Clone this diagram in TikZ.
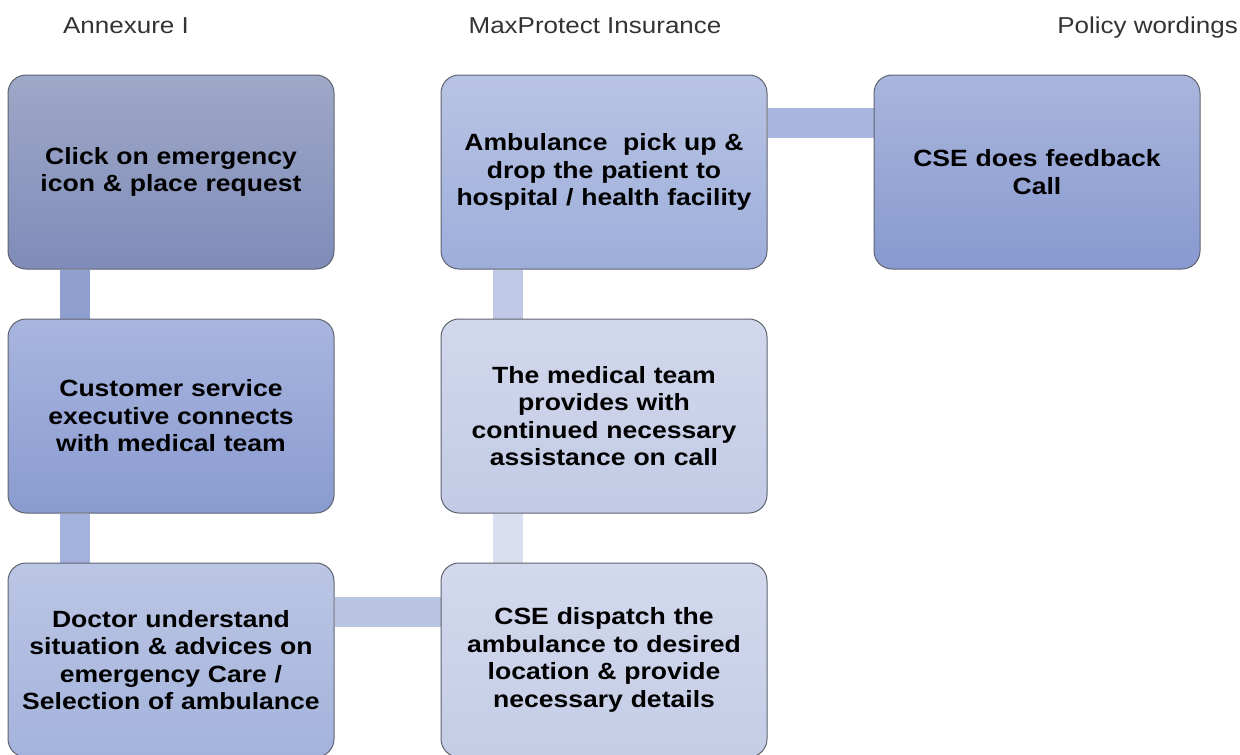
\documentclass[tikz,border=0pt]{standalone}
\usepackage{fontspec}
\setmainfont[FakeStretch=1.13]{Liberation Sans}
\usetikzlibrary{positioning,backgrounds,calc}
\definecolor{boxline}{HTML}{5F6370}
\definecolor{headgray}{HTML}{333333}
\definecolor{clicktop}{HTML}{9EA8C7}
\definecolor{clickbot}{HTML}{7F8CB9}
\definecolor{csetop}{HTML}{A8B5DF}
\definecolor{csebot}{HTML}{8A9BD0}
\definecolor{doctortop}{HTML}{BBC6E4}
\definecolor{doctorbot}{HTML}{A4B3DC}
\definecolor{dispatchtop}{HTML}{D3D9ED}
\definecolor{dispatchbot}{HTML}{C4CCE6}
\definecolor{medicaltop}{HTML}{D2D8EC}
\definecolor{medicalbot}{HTML}{C2CAE5}
\definecolor{pickuptop}{HTML}{B9C4E3}
\definecolor{pickupbot}{HTML}{9DAEDB}
\definecolor{feedbacktop}{HTML}{A9B5DC}
\definecolor{feedbackbot}{HTML}{8799CF}
\definecolor{linkA}{HTML}{8F9FD0}
\definecolor{linkB}{HTML}{A3B2DC}
\definecolor{linkC}{HTML}{BAC4E3}
\definecolor{linkD}{HTML}{D9DFEF}
\definecolor{linkE}{HTML}{BFC9E6}
\definecolor{linkF}{HTML}{A9B6DF}
\begin{document}
\begin{tikzpicture}[x=1pt,y=-1pt,node distance=49pt and 106pt]
\tikzset{flowbox/.style={draw=boxline,line width=1pt,rounded corners=18pt,
  minimum width=326pt,minimum height=194pt,text width=310pt,align=center,
  font=\bfseries\fontsize{23.5}{27.5}\selectfont}}
\tikzset{link/.style={line width=30pt}}
\tikzset{heading/.style={anchor=base,text=headgray,inner sep=0pt,
  font=\fontsize{23}{27}\selectfont}}
\useasboundingbox (0,0) rectangle (1240,755);
% column headings
\node[heading] (annex) at (126,33) {Annexure I};
\node[heading] (insurer) at (595,33) {MaxProtect Insurance};
\node[heading,anchor=base east] (wordings) at (1238,33) {Policy wordings};
% steps
\node[flowbox,top color=clicktop,bottom color=clickbot] (click) at (171,172)
  {Click on emergency\\icon \& place request};
\node[flowbox,top color=csetop,bottom color=csebot,below=of click] (cse)
  {Customer service\\executive connects\\with medical team};
\node[flowbox,top color=doctortop,bottom color=doctorbot,below=of cse] (doctor)
  {Doctor understand\\situation \& advices on\\emergency Care /\\Selection of ambulance};
\node[flowbox,top color=dispatchtop,bottom color=dispatchbot,right=of doctor] (dispatch)
  {CSE dispatch the\\ambulance to desired\\location \& provide\\necessary details};
\node[flowbox,top color=medicaltop,bottom color=medicalbot,above=of dispatch] (medical)
  {The medical team\\provides with\\continued necessary\\assistance on call};
\node[flowbox,top color=pickuptop,bottom color=pickupbot,above=of medical] (pickup)
  {Ambulance\ \ pick up \&\\drop the patient to\\hospital / health facility};
\node[flowbox,top color=feedbacktop,bottom color=feedbackbot,right=of pickup] (feedback)
  {CSE does feedback\\Call};
% links
\begin{scope}[on background layer]
\draw[link,linkA] ($(click.south west)+(67,0)$) -- ($(cse.north west)+(67,0)$);
\draw[link,linkB] ($(cse.south west)+(67,0)$) -- ($(doctor.north west)+(67,0)$);
\draw[link,linkC] ($(doctor.north east)+(0,49)$) -- ($(dispatch.north west)+(0,49)$);
\draw[link,linkD] ($(dispatch.north west)+(67,0)$) -- ($(medical.south west)+(67,0)$);
\draw[link,linkE] ($(medical.north west)+(67,0)$) -- ($(pickup.south west)+(67,0)$);
\draw[link,linkF] ($(pickup.north east)+(0,48)$) -- ($(feedback.north west)+(0,48)$);
\end{scope}
\end{tikzpicture}
\end{document}
